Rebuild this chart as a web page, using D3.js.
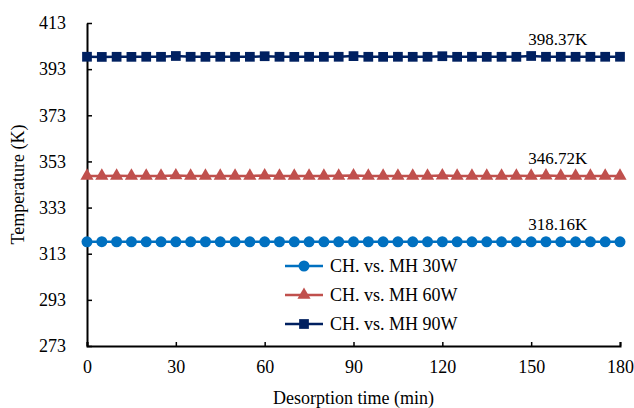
<!DOCTYPE html>
<html>
<head>
<meta charset="utf-8">
<script src="https://cdn.jsdelivr.net/npm/d3@7"></script>
<style>
  body { margin: 0; background: #fff; }
  svg text { font-family: "Liberation Serif", "Times New Roman", serif; fill: #000; }
</style>
</head>
<body>
<div id="chart"></div>
<script>
// Desorption time (min), one reading every 5 min
const times = d3.range(0, 181, 5);

// Temperature readings (K)
const temp30W = [318.16, 318.2, 318.18, 318.15, 318.16, 318.17, 318.14, 318.16, 318.18, 318.16,
  318.15, 318.17, 318.16, 318.18, 318.15, 318.16, 318.17, 318.16, 318.15, 318.18,
  318.16, 318.14, 318.17, 318.16, 318.18, 318.15, 318.16, 318.17, 318.16, 318.15,
  318.16, 318.18, 318.16, 318.15, 318.17, 318.16, 318.16];
const temp60W = [346.72, 346.7, 346.74, 346.71, 346.72, 346.73, 346.9, 346.72, 346.7, 346.73,
  346.71, 346.72, 346.85, 346.73, 346.72, 346.7, 346.72, 346.74, 346.85, 346.72,
  346.71, 346.73, 346.72, 346.7, 346.86, 346.72, 346.73, 346.71, 346.72, 346.74,
  346.72, 346.85, 346.72, 346.71, 346.73, 346.72, 346.72];
const temp90W = [398.37, 398.3, 398.35, 398.33, 398.36, 398.34, 398.7, 398.35, 398.33, 398.36,
  398.34, 398.35, 398.6, 398.36, 398.33, 398.35, 398.34, 398.36, 398.65, 398.35,
  398.33, 398.36, 398.34, 398.35, 398.6, 398.34, 398.36, 398.33, 398.35, 398.34,
  398.7, 398.35, 398.36, 398.34, 398.35, 398.36, 398.37];

const seriesNames = ['CH. vs. MH 30W', 'CH. vs. MH 60W', 'CH. vs. MH 90W'];
const endLabels = ['318.16K', '346.72K', '398.37K'];
const xTicks = [0, 30, 60, 90, 120, 150, 180];
const yTicks = [273, 293, 313, 333, 353, 373, 393, 413];

const width = 634, height = 408;
const margin = { top: 23, right: 14, bottom: 62, left: 87 };
const serif = '"Liberation Serif", "Times New Roman", serif';

const svg = d3.select('#chart').append('svg')
  .attr('width', width)
  .attr('height', height);

const x = d3.scaleLinear().domain([0, 180]).range([margin.left, width - margin.right]);
const y = d3.scaleLinear().domain([273, 413]).range([height - margin.bottom, margin.top]);

// Axes (ticks point inward)
const xAxis = svg.append('g')
  .attr('transform', `translate(0,${y(273)})`)
  .call(d3.axisBottom(x).tickValues(xTicks).tickSizeInner(-4).tickSizeOuter(-4).tickPadding(14));
const yAxis = svg.append('g')
  .attr('transform', `translate(${x(0)},0)`)
  .call(d3.axisLeft(y).tickValues(yTicks).tickSizeInner(-5).tickSizeOuter(0).tickPadding(21));

[xAxis, yAxis].forEach(g => {
  g.attr('font-family', serif);
  g.select('.domain').attr('stroke', '#000').attr('stroke-width', 2);
  g.selectAll('.tick line').attr('stroke', '#000').attr('stroke-width', 1.5);
  g.selectAll('.tick text')
    .attr('font-size', 18)
    .attr('fill', '#000');
});

// Axis titles
svg.append('text')
  .attr('x', (x(0) + x(180)) / 2)
  .attr('y', 404)
  .attr('text-anchor', 'middle')
  .attr('font-size', 18)
  .text('Desorption time (min)');

svg.append('text')
  .attr('transform', `translate(24,${(y(273) + y(413)) / 2}) rotate(-90)`)
  .attr('text-anchor', 'middle')
  .attr('font-size', 18)
  .text('Temperature (K)');

// Series
const series = [
  { name: seriesNames[0], values: temp30W, color: '#0070C0', symbol: d3.symbolCircle, size: 95, label: endLabels[0] },
  { name: seriesNames[1], values: temp60W, color: '#C0504D', symbol: d3.symbolTriangle, size: 75, label: endLabels[1] },
  { name: seriesNames[2], values: temp90W, color: '#002060', symbol: d3.symbolSquare, size: 95, label: endLabels[2] }
];

const line = d3.line()
  .x((d, i) => x(times[i]))
  .y(d => y(d));

series.forEach(s => {
  svg.append('path')
    .datum(s.values)
    .attr('fill', 'none')
    .attr('stroke', s.color)
    .attr('stroke-width', 2.5)
    .attr('d', line);

  svg.append('g')
    .selectAll('path')
    .data(s.values)
    .enter()
    .append('path')
    .attr('transform', (d, i) => `translate(${x(times[i])},${y(d)})`)
    .attr('d', d3.symbol().type(s.symbol).size(s.size))
    .attr('fill', s.color);

  // value label above the right end
  svg.append('text')
    .attr('x', x(159))
    .attr('y', y(s.values[s.values.length - 1]) - 12)
    .attr('text-anchor', 'middle')
    .attr('font-size', 17)
    .text(s.label);
});

// Legend
const legend = svg.append('g').attr('transform', 'translate(278,252)');
legend.append('rect')
  .attr('width', 250)
  .attr('height', 88)
  .attr('fill', '#fff');

series.forEach((s, i) => {
  const row = legend.append('g').attr('transform', `translate(0,${14 + i * 29})`);
  row.append('line')
    .attr('x1', 7).attr('x2', 45)
    .attr('stroke', s.color)
    .attr('stroke-width', 2.5);
  row.append('path')
    .attr('transform', 'translate(26,0)')
    .attr('d', d3.symbol().type(s.symbol).size(s.size))
    .attr('fill', s.color);
  row.append('text')
    .attr('x', 52)
    .attr('dy', '0.35em')
    .attr('font-size', 18)
    .text(s.name);
});
</script>
</body>
</html>
